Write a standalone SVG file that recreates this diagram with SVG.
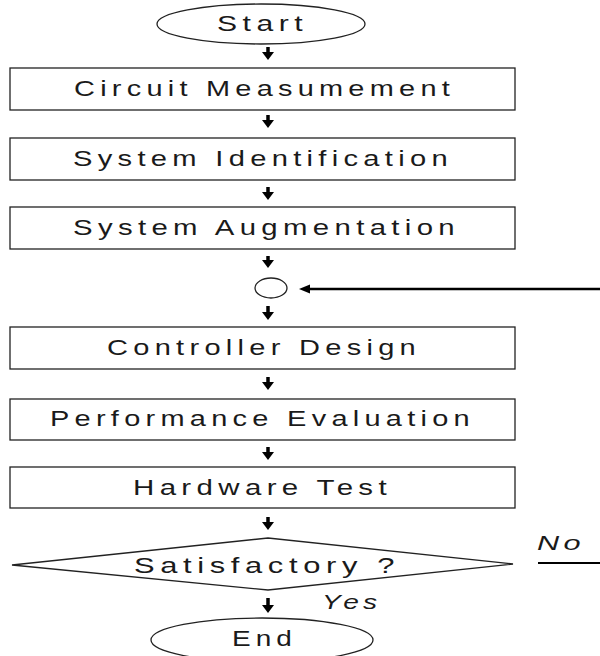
<svg xmlns="http://www.w3.org/2000/svg" width="600" height="656" viewBox="0 0 600 656">
<defs>
<style>
.sh{fill:#fff;stroke:#222;stroke-width:1.3}
.t{font-family:"Liberation Sans",Arial,sans-serif;font-size:22px;fill:#1a1a1a;letter-spacing:4px}
.it{font-family:"Liberation Sans",Arial,sans-serif;font-size:21px;font-style:italic;fill:#1a1a1a;letter-spacing:3px}
.ar{stroke:#000;stroke-width:3.5;fill:none;marker-end:url(#ah)}
</style>
<marker id="ah" markerUnits="userSpaceOnUse" markerWidth="10" markerHeight="14" refX="4" refY="0" viewBox="0 -7 10 14" orient="auto" overflow="visible">
<path d="M0,-6 L8,0 L0,6 Z" fill="#000"/>
</marker>
<marker id="ah2" markerUnits="userSpaceOnUse" markerWidth="12" markerHeight="10" refX="4" refY="0" viewBox="0 -5 12 10" orient="auto" overflow="visible">
<path d="M0,-4.5 L11,0 L0,4.5 Z" fill="#000"/>
</marker>
</defs>
<rect width="600" height="656" fill="#fff"/>
<g id="connectors">
<line class="ar" x1="268" y1="47" x2="268" y2="56"/>
<line class="ar" x1="268" y1="115" x2="268" y2="124"/>
<line class="ar" x1="268" y1="187" x2="268" y2="196"/>
<line class="ar" x1="268" y1="256" x2="268" y2="264"/>
<line class="ar" x1="268" y1="306" x2="268" y2="316"/>
<line class="ar" x1="268" y1="377" x2="268" y2="386"/>
<line class="ar" x1="268" y1="447" x2="268" y2="456"/>
<line class="ar" x1="268" y1="517" x2="268" y2="526"/>
<line class="ar" x1="268" y1="598" x2="268" y2="609"/>
<line x1="600" y1="289" x2="306" y2="289" stroke="#000" stroke-width="2.5" marker-end="url(#ah2)"/>
<line x1="538" y1="563" x2="600" y2="563" stroke="#000" stroke-width="2"/>
</g>
<g id="start">
<ellipse class="sh" cx="261" cy="24" rx="104" ry="20"/>
<text class="t" x="217" y="31" textLength="91" lengthAdjust="spacingAndGlyphs">Start</text>
</g>
<g id="circuit">
<rect class="sh" x="10" y="68" width="505" height="42"/>
<text class="t" x="74" y="96" textLength="381" lengthAdjust="spacingAndGlyphs">Circuit Measumement</text>
</g>
<g id="ident">
<rect class="sh" x="10" y="138" width="505" height="42"/>
<text class="t" x="73" y="166" textLength="380" lengthAdjust="spacingAndGlyphs">System Identification</text>
</g>
<g id="augment">
<rect class="sh" x="10" y="207" width="505" height="42"/>
<text class="t" x="73" y="235" textLength="387" lengthAdjust="spacingAndGlyphs">System Augmentation</text>
</g>
<g id="junction">
<ellipse class="sh" cx="271" cy="288" rx="16" ry="10"/>
</g>
<g id="controller">
<rect class="sh" x="10" y="327" width="505" height="42"/>
<text class="t" x="107" y="355" textLength="314" lengthAdjust="spacingAndGlyphs">Controller Design</text>
</g>
<g id="performance">
<rect class="sh" x="10" y="399" width="505" height="41"/>
<text class="t" x="50" y="426" textLength="425" lengthAdjust="spacingAndGlyphs">Performance Evaluation</text>
</g>
<g id="hardware">
<rect class="sh" x="10" y="467" width="505" height="41"/>
<text class="t" x="133" y="495" textLength="259" lengthAdjust="spacingAndGlyphs">Hardware Test</text>
</g>
<g id="decision">
<polygon class="sh" points="12,565 268,538 513,564 268,590"/>
<text class="t" x="134" y="573" textLength="266" lengthAdjust="spacingAndGlyphs">Satisfactory ?</text>
<text class="it" x="537" y="550" textLength="48" lengthAdjust="spacingAndGlyphs">No</text>
<text class="it" x="322" y="609" textLength="59" lengthAdjust="spacingAndGlyphs">Yes</text>
</g>
<g id="end">
<ellipse class="sh" cx="262" cy="640" rx="111" ry="22"/>
<text class="t" x="232" y="646" textLength="65" lengthAdjust="spacingAndGlyphs">End</text>
</g>
</svg>
